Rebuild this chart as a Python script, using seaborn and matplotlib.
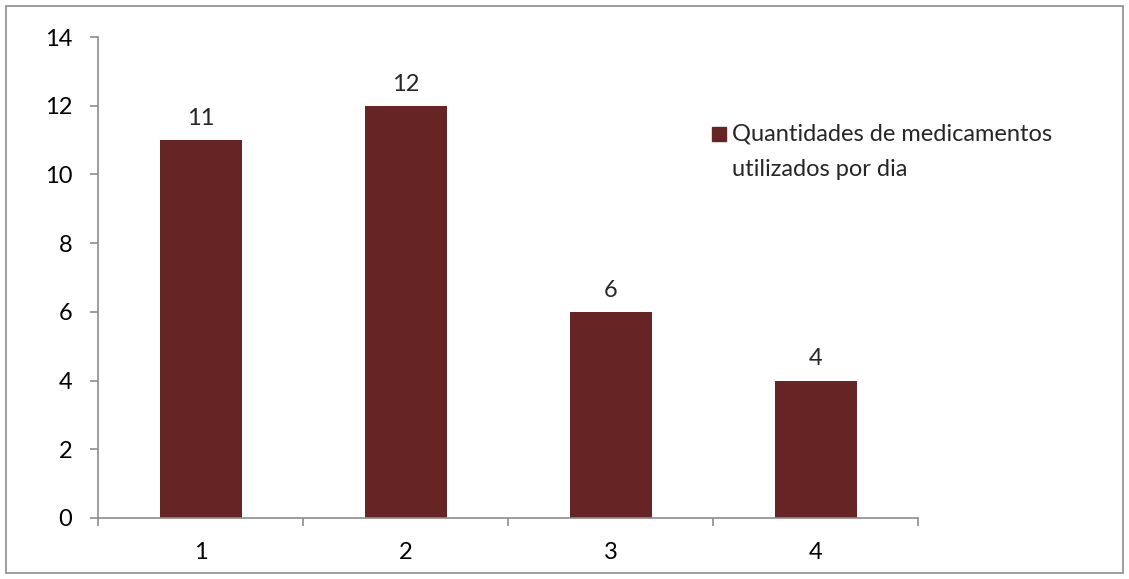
import matplotlib
matplotlib.use("Agg")
import matplotlib.pyplot as plt
import matplotlib.patches as mpatches
from matplotlib.ticker import FixedLocator, NullFormatter
import seaborn as sns
import pandas as pd

categories = ["1", "2", "3", "4"]
values = [11, 12, 6, 4]
series_lines = ["Quantidades de medicamentos", "utilizados por dia"]
y_ticks = [0, 2, 4, 6, 8, 10, 12, 14]

bar_color = "#662424"
axis_color = "#8c8c8c"
font_size = 17

sns.set_theme(style="white")
plt.rcParams["font.family"] = ["Lato", "DejaVu Sans"]

df = pd.DataFrame({"categoria": categories, "valor": values})

W, H = 1129, 579
fig = plt.figure(figsize=(W / 100, H / 100), dpi=100)
ax = fig.add_axes([98 / W, 1 - 518 / H, (918 - 98) / W, (518 - 37) / H])

sns.barplot(data=df, x="categoria", y="valor", color=bar_color, width=0.4,
            saturation=1, ax=ax, edgecolor="none")

ax.set_xlim(-0.5, len(categories) - 0.5)
ax.set_ylim(0, 14)
ax.set_yticks(y_ticks)
ax.set_xlabel("")
ax.set_ylabel("")

for s in ["top", "right"]:
    ax.spines[s].set_visible(False)
for s in ["left", "bottom"]:
    ax.spines[s].set_color(axis_color)
    ax.spines[s].set_linewidth(1.2)

# category boundaries carry the x tick marks
ax.xaxis.set_minor_locator(FixedLocator([i - 0.5 for i in range(len(categories) + 1)]))
ax.xaxis.set_minor_formatter(NullFormatter())
ax.tick_params(axis="x", which="major", length=0, labelsize=font_size, pad=17, colors="black")
ax.tick_params(axis="x", which="minor", length=6, width=1.2, color=axis_color, direction="out", bottom=True)
ax.tick_params(axis="y", which="major", length=6, width=1.2, color=axis_color, direction="out",
               left=True, labelsize=font_size, pad=12.5, labelcolor="black")

for i, v in enumerate(values):
    ax.annotate(f"{v}", (i, v), xytext=(0, 8), textcoords="offset points",
                ha="center", va="bottom", fontsize=font_size)

# legend: colour key beside a two-line series name
fig.patches.append(mpatches.Rectangle((712 / W, 1 - 141 / H), 14 / W, 14 / H,
                                      transform=fig.transFigure, color=bar_color))
for k, line in enumerate(series_lines):
    fig.text(732 / W, 1 - (141 + 35 * k) / H, line, fontsize=font_size,
             ha="left", va="baseline")

# outer frame
fig.patches.append(mpatches.Rectangle((6 / W, 6 / H), 1117 / W, 567 / H,
                                      transform=fig.transFigure, fill=False,
                                      edgecolor=axis_color, linewidth=1.2))

fig.savefig("out.png", dpi=100, facecolor="white")
